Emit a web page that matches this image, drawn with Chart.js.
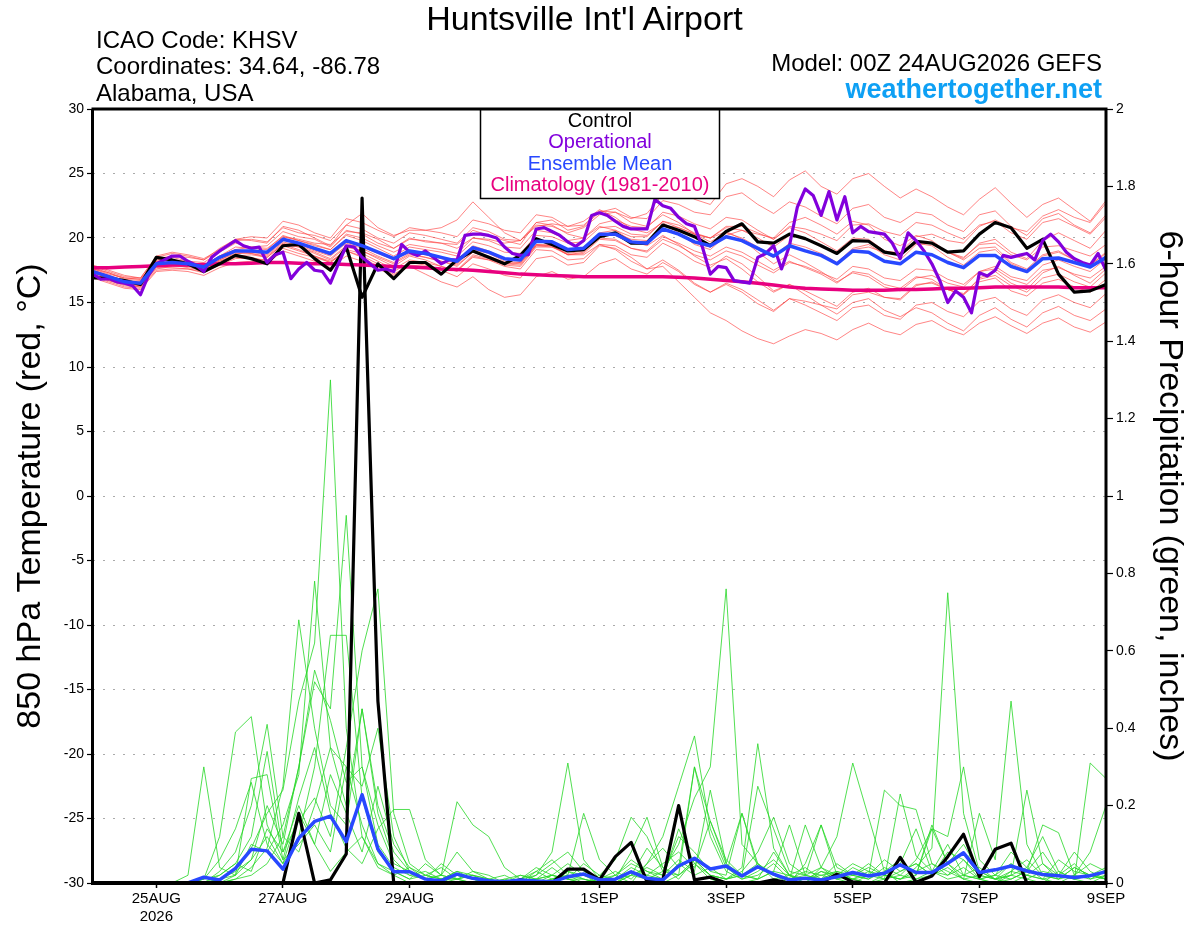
<!DOCTYPE html>
<html>
<head>
<meta charset="utf-8">
<title>Huntsville Int'l Airport - GEFS 850 hPa Temperature and Precipitation</title>
<script src="https://cdn.jsdelivr.net/npm/chart.js@4.4.1/dist/chart.umd.min.js"></script>
<style>
  body { margin: 0; background: #fff; }
  #wrap { position: relative; width: 1200px; height: 927px; font-family: "Liberation Sans", Arial, Helvetica, sans-serif; }
  #wrap canvas { position: absolute; left: 0; top: 0; }
  .t { position: absolute; white-space: nowrap; line-height: 1; color: #000; }
  #title { left: 0; width: 1169px; top: 1px; text-align: center; font-size: 34px; }
  .info { left: 96px; font-size: 24px; }
  .model { right: 98px; font-size: 24px; text-align: right; }
  #site { right: 98px; top: 75.5px; font-size: 27px; font-weight: bold; color: #0ea0f4; }
</style>
</head>
<body>
<div id="wrap">
  <canvas id="chart" width="1200" height="927" style="width:1200px;height:927px"></canvas>
  <div class="t" id="title">Huntsville Int'l Airport</div>
  <div class="t info" style="top:28px">ICAO Code: KHSV</div>
  <div class="t info" style="top:54px">Coordinates: 34.64, -86.78</div>
  <div class="t info" style="top:81px">Alabama, USA</div>
  <div class="t model" style="top:51px">Model: 00Z 24AUG2026 GEFS</div>
  <div class="t" id="site">weathertogether.net</div>
</div>
<script>
// hours after 00Z 24AUG2026
const tickHours = [24, 72, 120, 192, 240, 288, 336, 384];
const tickLabels = [["25AUG", "2026"], "27AUG", "29AUG", "1SEP", "3SEP", "5SEP", "7SEP", "9SEP"];

const legendLines = ["Control", "Operational", "Ensemble Mean", "Climatology (1981-2010)"];

// 850 hPa temperature, 6-hourly from 0h
const controlTemp = [16.9,16.9,16.7,16.4,18.5,18.3,18.0,17.4,18.0,18.65,18.4,18.0,19.4,19.5,18.4,17.5,19.3,15.4,18.0,16.85,18.1,18.1,17.2,18.3,19.0,18.5,18.0,18.65,19.95,19.5,19.0,19.1,20.1,20.4,19.6,19.6,21.0,20.6,20.1,19.4,20.5,21.1,19.7,19.6,20.3,19.95,19.4,18.8,19.8,19.75,18.9,18.7,19.75,19.6,18.9,19.0,20.3,21.2,20.8,19.2,19.9,17.2,15.8,15.9,16.4];
const meanTemp = [17.4,17.0,16.6,16.5,18.0,18.1,18.0,17.75,18.5,19.0,19.0,18.9,19.9,19.6,19.2,18.8,19.8,19.4,18.9,18.4,19.0,18.8,18.5,18.2,19.25,18.9,18.4,18.3,19.75,19.7,19.1,19.2,20.3,20.3,19.7,19.6,20.7,20.3,19.7,19.4,20.1,19.8,19.2,18.6,19.4,19.0,18.65,18.0,19.0,18.9,18.2,18.0,18.9,18.7,18.1,17.7,18.65,18.65,17.8,17.4,18.4,18.45,18.1,17.75,18.5];
const climTemp = [17.7,17.7,17.75,17.8,17.85,17.9,17.9,17.95,18.0,18.0,18.05,18.1,18.1,18.05,18.0,18.0,17.95,17.9,17.85,17.8,17.75,17.7,17.6,17.55,17.5,17.4,17.3,17.2,17.15,17.1,17.05,17.0,17.0,17.0,17.0,17.0,17.0,16.95,16.9,16.8,16.7,16.6,16.5,16.35,16.2,16.1,16.05,16.0,15.95,15.95,15.95,16.0,16.0,16.05,16.1,16.1,16.15,16.2,16.2,16.2,16.2,16.2,16.15,16.15,16.15];
// operational run, 3-hourly from 0h
const operTemp = [
  17.2,16.8,16.85,16.6,16.5,16.3,15.6,17.1,18.0,18.3,
  18.6,18.6,18.2,17.9,17.4,18.5,19.0,19.4,19.8,19.4,
  19.2,19.3,18.1,18.7,18.9,16.85,17.6,18.1,17.5,17.4,
  16.5,18.0,19.4,19.3,18.5,18.0,17.5,17.6,17.4,19.5,
  18.9,18.65,19.0,18.5,18.0,18.3,18.3,20.2,20.3,20.3,
  20.2,20.0,19.3,18.8,18.65,18.7,20.7,20.8,20.5,20.2,
  19.7,19.35,19.8,21.75,21.95,21.75,21.3,20.9,20.7,20.7,
  20.7,23.0,22.5,22.3,21.6,21.1,20.9,19.3,17.2,17.8,
  17.7,16.7,16.6,16.5,18.5,18.8,19.4,17.6,19.4,22.4,
  23.8,23.3,21.75,23.6,21.4,23.2,20.4,20.9,20.5,20.4,
  20.3,19.6,18.4,20.4,19.8,19.0,18.0,16.7,15.0,15.9,
  15.4,14.2,17.3,17.05,17.5,18.65,18.5,18.65,18.8,18.3,
  19.8,20.3,19.7,18.9,18.4,18.1,17.9,18.8,17.5];

// ensemble members, 6-hourly from 0h
const tempMember01 = [17.6,17.2,16.9,16.8,18.3,18.5,18.2,18.1,18.9, 19.6,19.3,19.4,20.5,20.1,19.9,19.3,20.6,20.3,19.6,19.2,20.0, 19.7,19.6,19.5,20.6,20.2,19.8,19.5,21.2,21.4,20.6,20.9,22.0, 22.3,21.6,21.5,22.9,22.6,22.0,21.8,23.2,23.5,22.6,21.9,22.8,22.4,21.7,21.1,22.3, 22.6,21.6,21.2,22.0,21.8,21.0,20.5,21.8,22.1,20.9,20.2,21.5,21.9,21.0,20.4,21.8];
const tempMember02 = [17.9,17.5,17.1,16.9,18.6,18.9,18.7,18.4,19.1, 19.9,19.8,19.6,20.9,20.6,20.0,19.4,21.0,21.9,20.8,20.2,20.6, 20.6,20.8,21.4,22.8,21.6,20.4,19.8,21.0,20.9,20.4,20.8,21.8, 22.0,21.5,21.9,23.4,23.8,23.0,22.6,24.2,24.6,24.0,23.2,24.5,25.2,24.0,23.4,24.6, 25.0,24.0,23.1,23.8,23.2,22.4,21.8,23.0,23.9,22.7,21.6,22.6,23.1,22.2,21.3,22.9];
const tempMember03 = [17.0,16.6,16.2,16.1,17.5,17.6,17.6,17.3,17.9, 18.4,18.5,18.2,19.2,18.8,18.5,18.1,19.0,18.6,18.0,17.4,18.1, 17.9,17.5,17.0,18.0,17.6,17.1,16.9,18.4,18.6,17.9,18.1,19.4, 19.2,18.5,17.6,17.8,16.6,15.4,14.2,13.6,12.8,12.2,11.8,12.4,12.9,12.6,12.1,12.9, 13.4,12.8,12.5,13.3,13.6,12.9,12.5,13.4,13.9,13.2,12.6,13.4,13.8,13.1,12.7,13.5];
const tempMember04 = [17.2,16.8,16.4,16.2,17.8,17.9,17.7,17.5,18.2, 18.6,18.7,18.5,19.5,19.3,18.8,18.3,19.3,19.0,18.4,17.8,18.6, 18.3,17.8,17.4,18.6,18.3,17.8,17.6,19.1,19.0,18.3,18.4,19.5, 19.4,18.7,18.5,19.6,19.0,18.2,17.7,18.6,18.0,17.0,15.9,16.4,15.6,14.8,14.1,15.0, 15.3,14.4,13.9,14.6,14.2,13.4,12.8,14.0,14.6,13.7,13.1,14.2,14.7,14.0,13.6,14.5];
const tempMember05 = [17.5,17.1,16.7,16.6,18.2,18.3,18.2,17.9,18.6, 19.3,19.2,19.1,20.2,19.8,19.4,19.1,20.2,19.8,19.2,18.6,19.3, 19.1,18.9,18.6,19.7,19.4,18.9,18.8,20.2,20.1,19.6,19.7,20.8, 20.9,20.3,20.2,21.3,20.8,20.3,20.0,20.8,20.6,20.0,19.3,20.2,19.9,19.4,18.8,19.8, 19.8,19.0,18.8,19.7,19.6,18.9,18.5,19.5,19.6,18.7,18.3,19.3,19.4,19.0,18.6,19.5];
const tempMember06 = [17.3,16.9,16.5,16.4,17.9,18.0,17.9,17.6,18.3, 18.8,18.8,18.6,19.6,19.3,18.9,18.4,19.4,19.0,18.5,18.0,18.7, 18.5,18.2,17.8,18.9,18.5,18.0,17.9,19.4,19.3,18.7,18.8,19.9, 19.8,19.2,19.0,20.1,19.6,19.0,18.6,19.3,18.9,18.2,17.5,18.2,17.7,17.2,16.5,17.4, 17.2,16.4,16.1,17.0,16.8,16.0,15.6,16.6,16.9,15.9,15.5,16.5,16.8,16.2,15.8,16.8];
const tempMember07 = [17.6,17.3,16.8,16.7,18.4,18.6,18.5,18.3,19.0, 19.8,19.9,19.7,20.8,20.4,20.2,19.8,21.0,20.7,20.0,19.6,20.4, 20.2,19.9,19.6,20.8,20.5,19.9,19.8,21.2,21.0,20.3,20.0,20.9, 20.6,19.8,19.4,20.2,19.5,18.6,17.9,18.4,17.6,16.6,15.8,16.4,15.9,15.3,14.7,15.8, 16.1,15.4,15.2,16.3,16.6,16.0,15.6,16.9,17.4,16.5,16.0,17.3,17.8,17.1,16.5,17.6];
const tempMember08 = [17.8,17.4,17.0,16.9,18.5,18.8,18.6,18.3,19.2, 19.9,20.1,20.0,21.3,21.0,20.4,20.0,21.5,21.2,20.6,20.1,20.8, 20.6,20.4,20.1,21.4,21.1,20.6,20.4,21.8,21.6,20.9,21.0,22.1, 22.0,21.2,20.9,21.8,21.2,20.3,19.7,20.4,20.0,19.3,18.6,19.6,19.3,18.8,18.1,19.2, 19.5,18.7,18.3,19.5,19.6,18.9,18.4,19.6,19.9,18.9,18.4,19.8,20.4,19.8,19.2,20.6];
const tempMember09 = [17.1,16.7,16.3,16.2,17.7,17.7,17.6,17.4,18.0, 18.5,18.4,18.3,19.4,19.0,18.6,18.1,19.1,18.8,18.2,17.6,18.3, 18.1,17.8,17.5,18.7,18.4,17.9,17.8,19.3,19.3,18.8,19.0,20.2, 20.4,19.9,19.8,21.0,20.8,20.3,20.0,20.9,20.9,20.4,19.9,20.9,20.7,20.3,19.8,21.0, 21.1,20.5,20.2,21.2,21.0,20.4,19.9,21.0,21.3,20.4,19.9,21.2,21.5,20.9,20.3,21.6];
const tempMember10 = [16.9,16.5,16.1,16.0,17.4,17.5,17.4,17.1,17.7, 18.1,18.2,18.0,19.0,18.6,18.2,17.7,18.6,18.2,17.6,17.1,17.8, 17.2,16.6,16.2,17.0,16.0,15.4,15.6,17.0,17.4,16.8,17.0,18.0, 18.4,17.6,17.2,18.1,17.4,16.4,15.8,16.5,16.0,15.2,14.4,15.3,14.8,14.2,13.6,14.6, 14.8,14.0,13.7,14.8,15.0,14.3,13.9,15.1,15.4,14.5,14.0,15.2,15.6,15.0,14.6,15.7];
const tempMember11 = [17.5,17.1,16.6,16.5,18.1,18.2,18.0,17.7,18.6, 19.1,19.3,19.2,20.1,19.8,19.5,19.1,20.3,20.0,19.4,18.9,19.5, 19.3,19.1,18.8,20.0,19.8,19.3,19.2,20.6,20.4,19.8,20.0,21.1, 21.4,20.9,20.8,22.0,21.7,21.1,20.7,21.6,21.4,20.6,19.9,20.8,20.4,19.7,19.0,20.0, 19.9,19.0,18.6,19.6,19.4,18.5,17.9,18.9,19.1,18.0,17.5,18.6,18.9,18.3,17.9,18.9];
const tempMember12 = [17.2,16.8,16.5,16.3,17.9,17.9,17.8,17.6,18.3, 18.9,18.9,18.7,19.7,19.4,19.0,18.6,19.6,19.2,18.6,18.1,18.8, 18.5,18.2,17.9,18.9,18.6,18.1,18.0,19.5,19.4,18.7,18.9,20.0, 19.9,19.2,18.9,19.9,19.4,18.7,18.3,19.0,18.6,17.9,17.3,18.1,17.8,17.3,16.8,17.8, 17.6,16.9,16.7,17.6,17.5,16.8,16.4,17.4,17.6,16.8,16.4,17.5,17.7,17.2,16.9,17.8];
const tempMember13 = [17.4,17.0,16.6,16.5,18.0,18.1,18.0,17.8,18.5, 19.0,18.9,18.9,19.9,19.5,19.1,18.7,19.8,19.5,18.9,18.4,19.0, 18.8,18.5,18.3,19.4,19.0,18.4,18.2,19.7,19.6,19.0,19.2,20.2, 20.2,19.6,19.5,20.7,20.3,19.6,19.3,20.1,19.8,19.1,18.5,19.4,19.0,18.6,18.0,19.1, 19.3,18.9,18.9,20.1,20.3,19.8,19.6,20.9,21.4,20.8,20.5,21.7,22.2,21.6,21.2,22.7];
const tempMember14 = [17.3,16.9,16.5,16.4,18.0,18.1,17.9,17.6,18.4, 19.0,19.0,18.9,19.9,19.6,19.1,18.7,19.7,19.3,18.8,18.3,18.9, 18.7,18.4,18.0,19.1,18.8,18.2,18.1,19.5,19.4,18.7,18.7,19.5, 19.1,18.2,17.6,18.3,17.5,16.5,15.8,16.4,15.8,14.9,14.3,15.3,15.1,14.8,14.5,15.6, 15.8,15.4,15.3,16.4,16.5,16.0,15.7,16.8,17.1,16.3,15.8,16.9,17.2,16.6,16.2,17.3];
const tempMember15 = [17.0,16.7,16.4,16.3,17.6,17.8,17.8,17.6,18.2, 18.7,19.1,18.9,20.1,19.9,19.6,19.5,20.5,20.4,19.9,19.2,19.9, 19.8,19.6,19.2,20.0,19.9,19.6,19.8,20.9,21.1,20.9,21.3,22.2, 21.6,20.7,20.4,21.2,20.4,19.5,19.1,20.2,20.6,20.3,20.0,21.2,21.6,21.0,20.3,21.3, 21.0,19.9,19.4,20.2,19.8,18.9,18.3,19.2,19.3,18.1,17.6,18.7,19.0,18.3,17.9,18.8];
const tempMember16 = [17.7,17.3,16.9,16.8,18.2,18.3,18.0,17.9,18.6, 19.1,18.8,18.5,19.5,19.1,18.6,18.2,19.0,18.5,17.8,17.2,17.9, 17.8,17.6,17.5,18.5,18.3,18.0,18.1,19.4,19.5,19.0,19.3,20.4, 20.6,20.1,20.1,21.3,21.0,20.4,20.0,20.5,19.9,18.9,18.0,18.7,18.1,17.4,16.6,17.3, 17.0,16.2,15.9,16.9,17.1,16.5,16.2,17.4,17.8,17.0,16.7,17.9,18.3,17.8,17.4,18.4];

// 6-hour precipitation (inches), 6-hourly from 6h
const controlPrecip = [0,0,0,0,0,0,0,0, 0,0,0,0,0.18,0,0.008,0.075, 1.77,0.47,0,0,0,0,0,0, 0,0,0.008,0,0,0.036,0.036,0.008, 0.068,0.105,0.003,0.008,0.2,0.008,0.015,0, 0,0,0.008,0,0,0,0.023,0.003, 0,0,0.066,0.002,0.018,0.068,0.126,0.016, 0.087,0.103,0,0,0,0,0,0];
const meanPrecip = [0,0,0,0,0,0,0.015,0.008, 0.038,0.087,0.083,0.036,0.116,0.159,0.173,0.107, 0.228,0.088,0.029,0.029,0.01,0.006,0.023,0.012, 0.006,0.003,0.008,0.005,0.003,0.016,0.023,0.008, 0.01,0.029,0.012,0.008,0.044,0.064,0.036,0.044, 0.018,0.042,0.023,0.008,0.012,0.008,0.016,0.027, 0.018,0.025,0.047,0.027,0.027,0.051,0.078,0.027, 0.034,0.044,0.031,0.022,0.019,0.014,0.019,0.029];

const precipMember01 = [0,0,0,0,0,0.02,0.30,0.04, 0.02,0.06,0.12,0.05,0.18,0.10,0.03,0.08, 0.12,0.04,0.02,0,0,0.01,0.03,0.01, 0,0,0,0.02,0.08,0.31,0.06,0.01, 0,0.03,0.01,0,0.02,0.05,0.01,0, 0,0.01,0.03,0.02,0,0.04,0.12,0.31, 0.17,0.03,0,0.01,0.02,0.05,0.01,0, 0,0.02,0.04,0.01,0,0.02,0.05,0.03];
const precipMember02 = [0,0,0,0,0,0,0.01,0.12, 0.39,0.43,0.15,0.06,0.22,0.35,0.18,0.09, 0.05,0.14,0.19,0.19,0.06,0.02,0.08,0.03, 0.01,0,0,0.03,0.01,0.02,0.18,0.06, 0.02,0,0.05,0.12,0.25,0.38,0.14,0.04, 0.01,0.03,0.06,0.02,0,0.03,0.01,0, 0.02,0.24,0.20,0.19,0.05,0.02,0.06,0.01, 0,0.03,0.06,0.02,0.01,0.04,0.02,0.01];
const precipMember03 = [0,0,0,0,0,0,0,0.03, 0.08,0.20,0.41,0.12,0.30,0.55,0.42,0.26, 0.30,0.15,0.05,0.03,0.01,0.02,0.21,0.15, 0.12,0.04,0.01,0,0.02,0.05,0.02,0, 0.01,0.08,0.17,0.04,0.02,0.30,0.16,0.05, 0.18,0.04,0.02,0,0.05,0.15,0.02,0.01, 0,0.01,0.23,0.07,0.03,0.10,0.02,0.01, 0.02,0.05,0.01,0,0.03,0.01,0.31,0.27];
const precipMember04 = [0,0,0,0,0,0,0,0.01, 0.04,0.09,0.18,0.24,0.47,0.62,1.30,0.40, 0.12,0.05,0.02,0.04,0.01,0,0.02,0.01, 0,0,0.01,0.03,0.06,0.02,0.01,0, 0,0.02,0.09,0.04,0.01,0.06,0.02,0.01, 0.04,0.36,0.09,0.02,0.01,0.03,0.02,0.05, 0.03,0.01,0.02,0.06,0.14,0.05,0.02,0.01, 0,0.01,0.03,0.08,0.02,0.01,0,0.02];
const precipMember05 = [0,0,0,0,0,0,0,0, 0.02,0.10,0.08,0.15,0.28,0.78,0.35,0.20, 0.45,0.18,0.06,0.02,0.03,0.01,0.01,0, 0,0.01,0.02,0.01,0.04,0.01,0,0.02, 0.06,0.17,0.12,0.03,0.10,0.22,0.30,0.76, 0.10,0.05,0.02,0.01,0.15,0.04,0.02,0.01, 0,0.02,0.05,0.14,0.03,0.01,0.02,0.04, 0.01,0,0.02,0.05,0.02,0.08,0.03,0.01];
const precipMember06 = [0,0,0,0,0,0,0.01,0.06, 0.14,0.26,0.10,0.05,0.12,0.30,0.64,0.64, 0.22,0.08,0.03,0.01,0.05,0.02,0.01,0.03, 0.02,0,0.01,0.04,0.02,0.01,0.05,0.02, 0.01,0.04,0.02,0.05,0.08,0.04,0.16,0.06, 0.02,0.25,0.14,0.03,0.02,0.01,0.05,0.02, 0.01,0.03,0.06,0.02,0.14,0.12,0.30,0.06, 0.02,0.08,0.04,0.12,0.03,0.01,0.02,0.04];
const precipMember07 = [0,0,0,0,0,0,0,0.02, 0.05,0.03,0.14,0.08,0.16,0.22,0.12,0.35, 0.60,0.76,0.18,0.05,0.02,0.01,0.03,0.02, 0.01,0,0.02,0.01,0,0.03,0.01,0, 0.02,0.06,0.03,0.01,0.05,0.02,0.04,0.01, 0.03,0.08,0.17,0.05,0.02,0.15,0.04,0.02, 0.05,0.02,0.01,0.04,0.09,0.75,0.18,0.03, 0.01,0.05,0.02,0.01,0.06,0.03,0.02,0.01];
const precipMember08 = [0,0,0,0,0,0,0,0.01, 0.03,0.06,0.20,0.10,0.30,0.52,0.45,0.95, 0.30,0.10,0.04,0.02,0.01,0.05,0.02,0.01, 0,0,0,0.01,0.02,0.01,0,0.01, 0.03,0.01,0.05,0.09,0.04,0.30,0.12,0.03, 0.01,0.02,0.05,0.01,0.03,0.02,0.01,0.04, 0.02,0.06,0.03,0.05,0.02,0.04,0.01,0.18, 0.06,0.47,0.10,0.02,0.01,0.04,0.02,0.01];
const precipMember09 = [0,0,0,0,0,0,0,0, 0.01,0.04,0.09,0.25,0.68,0.40,0.20,0.15, 0.45,0.20,0.08,0.03,0.01,0,0.01,0.02, 0.01,0.02,0,0,0.01,0.03,0.02,0.01, 0,0.02,0.04,0.02,0.12,0.08,0.03,0.02, 0.18,0.05,0.01,0.02,0.04,0.01,0.02,0.01, 0.03,0.02,0.01,0.02,0.15,0.05,0.10,0.03, 0.01,0.02,0.24,0.05,0.01,0.02,0.08,0.20];
const precipMember10 = [0,0,0,0,0,0,0,0.01, 0.02,0.27,0.28,0.06,0.10,0.15,0.08,0.30, 0.15,0.05,0.03,0.01,0.02,0.04,0.01,0, 0,0.01,0,0.01,0.02,0.01,0.01,0, 0.01,0.03,0.02,0.01,0.14,0.05,0.02,0.01, 0.02,0.01,0.03,0.15,0.02,0.01,0.03,0.02, 0.01,0.04,0.02,0.01,0.03,0.02,0.04,0.01, 0.02,0.01,0.03,0.15,0.13,0.02,0.01,0.02];
const precipMember11 = [0,0,0,0,0,0,0.01,0.02, 0.05,0.12,0.34,0.08,0.20,0.10,0.28,0.18, 0.08,0.25,0.10,0.04,0.02,0.01,0.02,0.01, 0.01,0,0.01,0.02,0.05,0.08,0.03,0.01, 0.02,0.05,0.03,0.02,0.06,0.03,0.24,0.05, 0.02,0.01,0.08,0.02,0.01,0.02,0.03,0.01, 0.02,0.01,0.03,0.05,0.02,0.08,0.06,0.02, 0.01,0.03,0.02,0.01,0.02,0.05,0.01,0.03];
const precipMember12 = [0,0,0,0,0,0,0,0, 0.01,0.02,0.05,0.12,0.08,0.20,0.35,0.30, 0.25,0.40,0.12,0.03,0.01,0.02,0.01,0.02, 0,0,0.01,0,0.01,0.02,0,0.01, 0.01,0.02,0.01,0.03,0.02,0.06,0.02,0.01, 0.02,0.05,0.02,0.01,0.02,0.04,0.01,0.02, 0.04,0.02,0.01,0.03,0.05,0.03,0.01,0.02, 0.01,0.02,0.01,0.03,0.02,0.01,0.02,0.01];

const tempMembers = [tempMember01, tempMember02, tempMember03, tempMember04, tempMember05, tempMember06, tempMember07, tempMember08,
  tempMember09, tempMember10, tempMember11, tempMember12, tempMember13, tempMember14, tempMember15, tempMember16];
const precipMembers = [precipMember01, precipMember02, precipMember03, precipMember04, precipMember05, precipMember06,
  precipMember07, precipMember08, precipMember09, precipMember10, precipMember11, precipMember12];

const BLACK = "#000000", PURPLE = "#8200dc", BLUE = "#2848ff", PINK = "#e8007f";
const legendColors = [BLACK, PURPLE, BLUE, PINK];
const FONT = '"Liberation Sans", Arial, Helvetica, sans-serif';

// x = forecast hour
function pts(vals, start, step) {
  return vals.map((v, i) => ({ x: start + i * step, y: v }));
}

function line(data, color, width, axis, order) {
  return {
    data, yAxisID: axis, order,
    borderColor: color, borderWidth: width,
    pointRadius: 0, tension: 0, fill: false,
    borderJoinStyle: "round", borderCapStyle: "round"
  };
}

const datasets = [];
datasets.push(line(pts(meanTemp, 0, 6), BLUE, 3.5, "yT", 0));
datasets.push(line(pts(operTemp, 0, 3), PURPLE, 3.2, "yT", 1));
datasets.push(line(pts(controlTemp, 0, 6), BLACK, 3.2, "yT", 2));
datasets.push(line(pts(climTemp, 0, 6), PINK, 3.5, "yT", 3));
datasets.push(line(pts(meanPrecip, 6, 6), BLUE, 3.5, "yP", 4));
datasets.push(line(pts(controlPrecip, 6, 6), BLACK, 3.2, "yP", 5));
precipMembers.forEach(m => datasets.push(line(pts(m, 6, 6), "rgba(40,215,40,0.9)", 0.9, "yP", 8)));
tempMembers.forEach(m => datasets.push(line(pts(m, 0, 6), "rgba(255,60,60,0.7)", 0.9, "yT", 9)));

// legend box and plot frame drawn over the lines
const frame = {
  id: "frame",
  afterDatasetsDraw(chart) {
    const { ctx, chartArea: a } = chart;
    ctx.save();
    ctx.fillStyle = "#fff";
    ctx.fillRect(480, a.top, 240, 90);
    ctx.strokeStyle = "#000";
    ctx.lineWidth = 1.5;
    ctx.strokeRect(480.5, a.top, 239, 89.5);
    ctx.font = "20px " + FONT;
    ctx.textAlign = "center";
    ctx.textBaseline = "middle";
    legendLines.forEach((t, i) => {
      ctx.fillStyle = legendColors[i];
      ctx.fillText(t, 600, a.top + 12 + i * 21.5);
    });

    ctx.lineWidth = 3;
    ctx.beginPath();
    ctx.moveTo(a.left - 1.5, a.top);
    ctx.lineTo(a.right + 1.5, a.top);
    ctx.moveTo(a.left - 0.5, a.top);
    ctx.lineTo(a.left - 0.5, a.bottom);
    ctx.moveTo(a.right, a.top);
    ctx.lineTo(a.right, a.bottom);
    ctx.stroke();
    ctx.lineWidth = 4;
    ctx.beginPath();
    ctx.moveTo(a.left - 2, a.bottom);
    ctx.lineTo(a.right + 1.5, a.bottom);
    ctx.stroke();
    ctx.restore();
  }
};

Chart.defaults.font.family = FONT;
Chart.defaults.color = "#000";

new Chart(document.getElementById("chart"), {
  type: "line",
  data: { datasets },
  options: {
    responsive: false,
    devicePixelRatio: 1,
    animation: false,
    events: [],
    layout: { padding: { top: 109, left: 0, right: 0, bottom: 0 } },
    plugins: { legend: { display: false }, tooltip: { enabled: false } },
    scales: {
      x: {
        type: "linear", min: 0, max: 384,
        afterBuildTicks: s => { s.ticks = tickHours.map(v => ({ value: v })); },
        afterFit: s => { s.height = 44; },
        ticks: {
          callback: (v, i) => tickLabels[i],
          font: { size: 15 }, color: "#000",
          maxRotation: 0, autoSkip: false, padding: 2
        },
        grid: { drawOnChartArea: false, tickLength: 5, tickColor: "#000", tickWidth: 1.5 },
        border: { display: false }
      },
      yT: {
        position: "left", min: -30, max: 30,
        afterFit: s => { s.width = 93; },
        ticks: { stepSize: 5, font: { size: 14 }, color: "#000", padding: 3, callback: v => String(v) },
        grid: { color: "#aaaaaa", lineWidth: 1, tickLength: 6, tickColor: "#000", tickWidth: 1.2, tickBorderDash: [] },
        border: { display: false, dash: [2, 8] },
        title: { display: true, text: "850 hPa Temperature (red, °C)", font: { size: 34 }, color: "#000", padding: { top: 10, bottom: 0 } }
      },
      yP: {
        position: "right", min: 0, max: 2,
        afterFit: s => { s.width = 94; },
        ticks: { stepSize: 0.2, font: { size: 14 }, color: "#000", padding: 3, callback: v => String(Math.round(v * 10) / 10) },
        grid: { drawOnChartArea: false, tickLength: 7, tickColor: "#000", tickWidth: 1.2 },
        border: { display: false },
        title: { display: true, text: "6-hour Precipitation (green, inches)", font: { size: 34 }, color: "#000", padding: { top: 10, bottom: 0 } }
      }
    }
  },
  plugins: [frame]
});
</script>
</body>
</html>
